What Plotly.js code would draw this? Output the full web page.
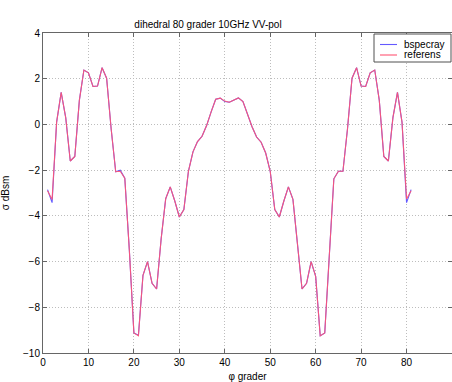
<!DOCTYPE html>
<html>
<head>
<meta charset="utf-8">
<script src="https://cdn.plot.ly/plotly-3.0.1.min.js"></script>
<style>
  html, body { margin: 0; padding: 0; background: #fff; }
  #chart { width: 452px; height: 382px; }
</style>
</head>
<body>
<div id="chart"></div>
<script>
// Scattering angle (degrees)
const phi = [
   1,  2,  3,  4,  5,  6,  7,  8,  9, 10,
  11, 12, 13, 14, 15, 16, 17, 18, 19, 20,
  21, 22, 23, 24, 25, 26, 27, 28, 29, 30,
  31, 32, 33, 34, 35, 36, 37, 38, 39, 40,
  41, 42, 43, 44, 45, 46, 47, 48, 49, 50,
  51, 52, 53, 54, 55, 56, 57, 58, 59, 60,
  61, 62, 63, 64, 65, 66, 67, 68, 69, 70,
  71, 72, 73, 74, 75, 76, 77, 78, 79, 80,
  81
];

// RCS from the bspecray model (dBsm)
const bspecray = [
  -2.85, -3.42,  0.10,  1.40,  0.30, -1.60, -1.40,  1.05,  2.38,  2.26,
   1.66,  1.68,  2.48,  2.02, -0.20, -2.07, -2.00, -2.35, -5.50, -9.12,
  -9.22, -6.60, -6.00, -6.95, -7.20, -5.00, -3.25, -2.73, -3.35, -4.05,
  -3.72, -2.05, -1.20, -0.75, -0.52, -0.05,  0.55,  1.10,  1.15,  1.00,
   0.97,  1.05,  1.16,  1.00,  0.45, -0.10, -0.55, -0.78, -1.25, -2.05,
  -3.72, -4.05, -3.35, -2.73, -3.28, -5.10, -7.20, -6.95, -6.00, -6.65,
  -9.25, -9.12, -5.50, -2.38, -2.05, -2.05, -0.20,  2.02,  2.48,  1.68,
   1.66,  2.26,  2.38,  1.05, -1.40, -1.60,  0.30,  1.40,  0.10, -3.42,
  -2.85
];

// Reference RCS (dBsm)
const referens = [
  -2.90, -3.28,  0.10,  1.40,  0.30, -1.60, -1.40,  1.05,  2.38,  2.26,
   1.66,  1.68,  2.48,  2.02, -0.20, -2.07, -2.05, -2.35, -5.50, -9.12,
  -9.25, -6.60, -6.00, -6.95, -7.20, -5.00, -3.25, -2.73, -3.35, -4.05,
  -3.72, -2.05, -1.20, -0.75, -0.52, -0.05,  0.55,  1.10,  1.15,  1.02,
   0.97,  1.05,  1.16,  1.00,  0.45, -0.10, -0.55, -0.78, -1.25, -2.05,
  -3.72, -4.05, -3.35, -2.73, -3.28, -5.10, -7.20, -6.95, -6.00, -6.65,
  -9.25, -9.12, -5.50, -2.38, -2.05, -2.05, -0.20,  2.02,  2.48,  1.68,
   1.66,  2.26,  2.38,  1.05, -1.40, -1.60,  0.30,  1.40,  0.10, -3.26,
  -2.90
];

const seriesNames = ['bspecray', 'referens'];
const seriesColors = ['rgb(100,90,255)', 'rgb(255,85,115)'];

const W = 452, H = 382;
const M = { l: 43, r: 0, t: 33, b: 29 };
const font = 'Liberation Sans, Arial, Helvetica, sans-serif';
const axisColor = '#666';

// pixel -> paper coordinates (for the boxed legend in the upper right)
const px = v => (v - M.l) / (W - M.l - M.r);
const py = v => 1 - (v - M.t) / (H - M.t - M.b);

const traces = [
  {
    x: phi, y: bspecray, name: seriesNames[0], type: 'scatter', mode: 'lines',
    line: { color: seriesColors[0], width: 1.1 }
  },
  {
    x: phi, y: referens, name: seriesNames[1], type: 'scatter', mode: 'lines',
    line: { color: seriesColors[1], width: 1.1 }, opacity: 0.92
  }
];

const axisCommon = {
  showline: true, linecolor: axisColor, linewidth: 1, mirror: 'ticks',
  ticks: 'inside', ticklen: 4, tickcolor: axisColor, tickwidth: 1,
  showgrid: true, gridcolor: '#bdbdbd', griddash: '1px,2px', gridwidth: 1,
  zeroline: false, automargin: false,
  tickfont: { family: font, size: 10, color: '#000' }
};

// legend box
const legendBox = { x0: 374, x1: 451, y0: 34, y1: 62 };
const legendRows = [44.5, 55];
const shapes = [{
  type: 'rect', xref: 'paper', yref: 'paper',
  x0: px(legendBox.x0), x1: px(legendBox.x1), y0: py(legendBox.y1), y1: py(legendBox.y0),
  fillcolor: '#fff', line: { color: '#505050', width: 1 }, layer: 'above'
}];
const annotations = [];
seriesNames.forEach((name, i) => {
  shapes.push({
    type: 'line', xref: 'paper', yref: 'paper',
    x0: px(380), x1: px(397), y0: py(legendRows[i]), y1: py(legendRows[i]),
    line: { color: seriesColors[i], width: 1.1 }, layer: 'above'
  });
  annotations.push({
    xref: 'paper', yref: 'paper', x: px(402), y: py(legendRows[i]),
    xanchor: 'left', yanchor: 'middle', showarrow: false, text: name,
    font: { family: font, size: 10, color: '#000' }
  });
});

const layout = {
  width: W, height: H,
  margin: Object.assign({ pad: 0 }, M),
  paper_bgcolor: '#fff', plot_bgcolor: '#fff',
  font: { family: font, size: 10, color: '#000' },
  showlegend: false,
  title: {
    text: 'dihedral 80 grader 10GHz VV-pol',
    font: { family: font, size: 10, color: '#000' },
    x: 208 / W, xref: 'container', xanchor: 'center',
    y: 1 - 24 / H, yref: 'container', yanchor: 'middle'
  },
  xaxis: Object.assign({}, axisCommon, {
    range: [0, 90], tick0: 0, dtick: 10,
    title: { text: 'φ grader', font: { family: font, size: 10, color: '#000' }, standoff: 10 }
  }),
  yaxis: Object.assign({}, axisCommon, {
    range: [-10, 4], tick0: -10, dtick: 2,
    title: { text: 'σ dBsm', font: { family: font, size: 10, color: '#000' }, standoff: 14 }
  }),
  shapes: shapes,
  annotations: annotations
};

Plotly.newPlot('chart', traces, layout, { staticPlot: true, displayModeBar: false });
</script>
</body>
</html>
